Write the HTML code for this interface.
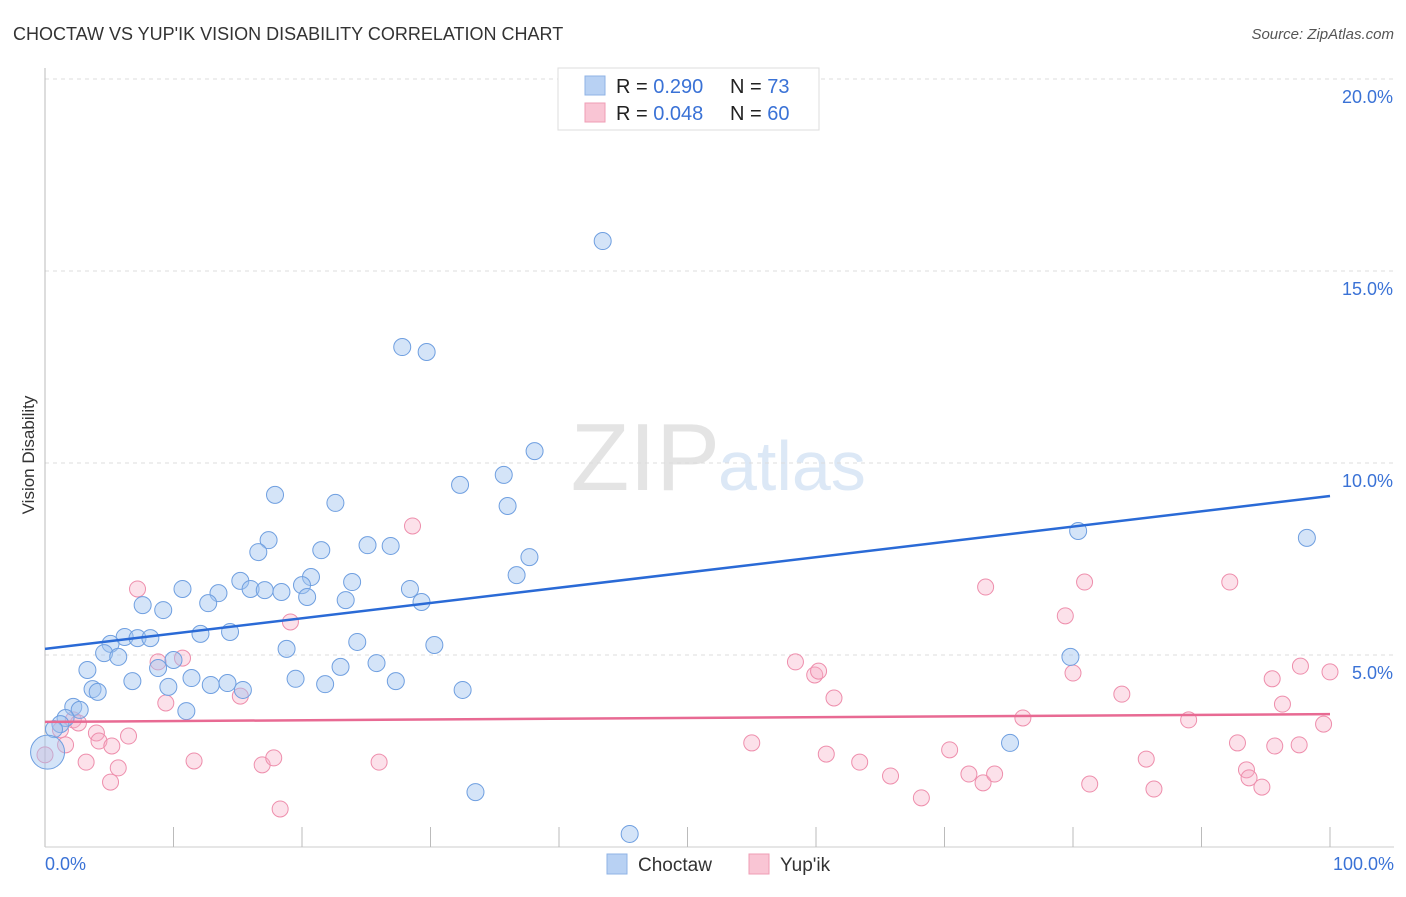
<!DOCTYPE html>
<html><head><meta charset="utf-8"><style>
body{margin:0;background:#fff;font-family:"Liberation Sans",sans-serif;}
svg text{font-family:"Liberation Sans",sans-serif;}
</style></head><body>
<svg id="chart" width="1406" height="892" xmlns="http://www.w3.org/2000/svg">
<text x="13" y="40" font-size="18" fill="#333">CHOCTAW VS YUP'IK VISION DISABILITY CORRELATION CHART</text>
<text x="1394" y="39" font-size="15" fill="#555" font-style="italic" text-anchor="end">Source: ZipAtlas.com</text>
<text x="720" y="490" font-size="96" fill="#e4e4e4" text-anchor="end" font-family="Liberation Serif">ZIP</text>
<text x="718" y="490" font-size="70" fill="#dce8f6">atlas</text>
<g id="grid"></g>
<g id="axes"></g>
<g id="pts"></g>
<g id="lines"></g>
<text transform="translate(34,455) rotate(-90)" font-size="17" fill="#333" text-anchor="middle">Vision Disability</text>
<g>
<rect x="558" y="68" width="261" height="62" fill="#fff" stroke="#ddd"/>
<rect x="585" y="76" width="20" height="19" fill="#b8d1f3" stroke="#8fb3e6"/>
<rect x="585" y="103" width="20" height="19" fill="#f9c5d4" stroke="#ef9db5"/>
<text x="616" y="93" font-size="20" fill="#222">R = <tspan fill="#3a72d6">0.290</tspan><tspan x="730">N = </tspan><tspan fill="#3a72d6">73</tspan></text>
<text x="616" y="120" font-size="20" fill="#222">R = <tspan fill="#3a72d6">0.048</tspan><tspan x="730">N = </tspan><tspan fill="#3a72d6">60</tspan></text>
</g>
<g>
<rect x="607" y="854" width="20" height="20" fill="#b8d1f3" stroke="#8fb3e6"/>
<text x="638" y="871" font-size="19" fill="#333">Choctaw</text>
<rect x="749" y="854" width="20" height="20" fill="#f9c5d4" stroke="#ef9db5"/>
<text x="780" y="871" font-size="19" fill="#333">Yup'ik</text>
</g>
</svg>
<script>
const yTicks=[5,10,15,20];
const yTickLabels=["5.0%","10.0%","15.0%","20.0%"];
const xTickLabels=["0.0%","100.0%"];
const choctawX=[43.4,27.8,29.7,38.1,32.3,35.7,17.9,22.6,36.0,80.4,98.2,17.4,25.1,26.9,16.6,21.5,37.7,36.7,20.7,15.2,23.9,10.7,16.0,17.1,18.4,20.0,28.4,13.5,7.6,12.7,20.4,23.4,29.3,9.2,12.1,14.4,6.2,7.2,8.2,5.1,30.3,4.6,5.7,24.3,18.8,10.0,8.8,25.8,3.3,23.0,6.8,11.4,19.5,21.8,27.3,14.2,3.7,4.1,9.6,12.9,15.4,32.5,2.2,2.7,11.0,1.6,1.2,0.7,79.8,75.1,33.5,45.5];
const choctawY=[15.78,13.02,12.89,10.31,9.43,9.69,9.17,8.96,8.88,8.23,8.05,7.99,7.86,7.84,7.68,7.73,7.55,7.08,7.03,6.93,6.90,6.72,6.72,6.69,6.64,6.82,6.72,6.61,6.30,6.35,6.51,6.43,6.38,6.17,5.55,5.60,5.47,5.44,5.44,5.29,5.26,5.05,4.95,5.34,5.16,4.87,4.66,4.79,4.61,4.69,4.32,4.40,4.38,4.24,4.32,4.27,4.11,4.04,4.17,4.22,4.09,4.09,3.65,3.57,3.54,3.36,3.20,3.07,4.95,2.71,1.43,0.34];
const yupikX=[7.2,28.6,19.1,8.8,10.7,9.4,15.2,2.2,2.6,1.2,1.6,4.0,4.2,6.5,5.2,3.2,5.7,5.1,11.6,16.9,17.8,18.3,26.0,0.0,58.4,59.9,60.2,61.4,73.2,80.9,79.4,80.0,92.2,97.7,95.5,100.0,96.3,83.8,76.1,89.0,55.0,60.8,63.4,65.8,70.4,71.9,73.0,73.9,68.2,81.3,85.7,86.3,92.8,93.5,93.7,94.7,95.7,97.6,99.5];
const yupikY=[6.72,8.36,5.86,4.82,4.92,3.75,3.93,3.31,3.23,3.05,2.66,2.97,2.76,2.89,2.63,2.21,2.06,1.69,2.24,2.14,2.32,0.99,2.21,2.40,4.82,4.48,4.58,3.88,6.77,6.90,6.02,4.53,6.90,4.71,4.38,4.56,3.72,3.98,3.36,3.31,2.71,2.42,2.21,1.85,2.53,1.90,1.67,1.90,1.28,1.64,2.29,1.51,2.71,2.01,1.80,1.56,2.63,2.66,3.20];
const choctawTrend=[5.16,9.14];
const yupikTrend=[3.26,3.46];
const NS="http://www.w3.org/2000/svg";
const X0=45,X1=1330,Y0=847,PPU=38.4;
function sx(v){return X0+(X1-X0)*v/100;}
function sy(v){return Y0-v*PPU;}
function mk(tag,attrs,parent){const e=document.createElementNS(NS,tag);for(const k in attrs)e.setAttribute(k,attrs[k]);parent.appendChild(e);return e;}
const grid=document.getElementById('grid'),axes=document.getElementById('axes'),pts=document.getElementById('pts'),lines=document.getElementById('lines');
yTicks.forEach((t,i)=>{
  const l=mk('line',{x1:X0,x2:1394,y1:sy(t),y2:sy(t),stroke:'#ddd','stroke-dasharray':'4,4'},grid);
  
  
  const tx=mk('text',{x:1393,y:sy(t)+24,'font-size':18,fill:'#3a72d6','text-anchor':'end'},axes);
  tx.textContent=yTickLabels[i];
  
  
});
mk('line',{x1:X0,x2:X0,y1:68,y2:847,stroke:'#bbb'},axes);
mk('line',{x1:X0,x2:1394,y1:847,y2:847,stroke:'#ccc'},axes);
for(let i=1;i<=10;i++){mk('line',{x1:sx(i*10),x2:sx(i*10),y1:827,y2:847,stroke:'#bbb'},axes);}
const xl0=mk('text',{x:45,y:870,'font-size':18,fill:'#3a72d6'},axes);xl0.textContent=xTickLabels[0];


const xl1=mk('text',{x:1394,y:870,'font-size':18,fill:'#3a72d6','text-anchor':'end'},axes);xl1.textContent=xTickLabels[1];


yupikX.forEach((x,i)=>{
  const c=mk('circle',{cx:sx(x),cy:sy(yupikY[i]),r:8,fill:'rgba(246,170,195,0.35)',stroke:'#ee8eac','stroke-width':1},pts);
  
  
});
choctawX.forEach((x,i)=>{
  const c=mk('circle',{cx:sx(x),cy:sy(choctawY[i]),r:8.5,fill:'rgba(160,196,240,0.45)',stroke:'#6f9fe0','stroke-width':1},pts);
  
  
});
const big=mk('circle',{cx:sx(0.2),cy:sy(2.47),r:17,fill:'rgba(160,196,240,0.45)',stroke:'#6f9fe0'},pts);


const bl=mk('line',{x1:sx(0),x2:sx(100),y1:sy(choctawTrend[0]),y2:sy(choctawTrend[1]),stroke:'#2a6ad6','stroke-width':2.5},lines);


const pl=mk('line',{x1:sx(0),x2:sx(100),y1:sy(yupikTrend[0]),y2:sy(yupikTrend[1]),stroke:'#e86a93','stroke-width':2.5},lines);


</script>
</body></html>
